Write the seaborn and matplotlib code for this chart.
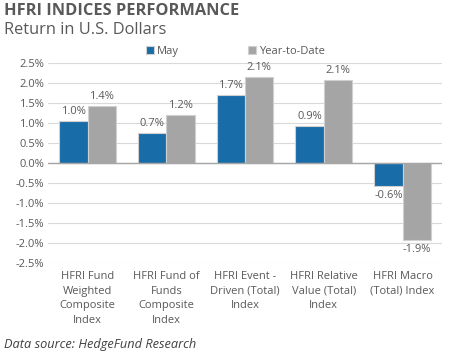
import matplotlib
matplotlib.use("Agg")
import matplotlib.pyplot as plt
import seaborn as sns
import pandas as pd
from matplotlib.ticker import FuncFormatter

categories = ["HFRI Fund\nWeighted\nComposite\nIndex",
              "HFRI Fund of\nFunds\nComposite\nIndex",
              "HFRI Event -\nDriven (Total)\nIndex",
              "HFRI Relative\nValue (Total)\nIndex",
              "HFRI Macro\n(Total) Index"]
may_values = [1.03, 0.73, 1.68, 0.92, -0.57]
may_labels = ["1.0%", "0.7%", "1.7%", "0.9%", "-0.6%"]
ytd_values = [1.41, 1.20, 2.13, 2.07, -1.93]
ytd_labels = ["1.4%", "1.2%", "2.1%", "2.1%", "-1.9%"]
series = ["May", "Year-to-Date"]
yticks = [2.5, 2.0, 1.5, 1.0, 0.5, 0.0, -0.5, -1.0, -1.5, -2.0, -2.5]

sns.set_theme(style="white")
plt.rcParams['font.family'] = ['Open Sans', 'DejaVu Sans']

df = pd.DataFrame({
    "cat": categories * 2,
    "series": [series[0]] * 5 + [series[1]] * 5,
    "value": may_values + ytd_values,
})

txt = "#595959"
fig = plt.figure(figsize=(4.5, 3.56), dpi=100)
ax = fig.add_axes([0.107, 0.262, 0.875, 0.562])
sns.barplot(data=df, x="cat", y="value", hue="series", ax=ax,
            palette={"May": "#0070C0", "Year-to-Date": "#A5A5A5"},
            width=0.72, edgecolor="#D0D0D0", linewidth=0.8, legend=True)

ax.set_ylim(-2.5, 2.5)
ax.set_yticks(yticks)
ax.yaxis.set_major_formatter(FuncFormatter(lambda v, p: f"{v:.1f}%"))
ax.grid(axis="y", color="#D9D9D9", linewidth=0.8)
ax.set_axisbelow(True)
ax.axhline(0, color="#A6A6A6", linewidth=1.0, zorder=3)
for s in ax.spines.values():
    s.set_visible(False)
ax.set_xlabel("")
ax.set_ylabel("")
ax.tick_params(axis="both", length=0, labelsize=8, colors=txt, pad=3)
ax.tick_params(axis="x", pad=6)
for t in ax.get_xticklabels():
    t.set_linespacing(1.45)

labels_all = [may_labels, ytd_labels]
for cont, labs in zip(ax.containers, labels_all):
    ax.bar_label(cont, labels=labs, padding=3, fontsize=8, color=txt)

ax.legend(loc="lower left", bbox_to_anchor=(0.235, 1.0), ncol=2, frameon=False,
          fontsize=8, labelcolor=txt, handlelength=0.7, handleheight=0.7,
          handletextpad=0.3, columnspacing=6.2, borderaxespad=0.1)

fig.text(0.009, 0.968, "HFRI INDICES PERFORMANCE", fontsize=11.8, fontweight="bold",
         color=txt, va="center", ha="left")
fig.text(0.009, 0.916, "Return in U.S. Dollars", fontsize=11.8, color=txt,
         va="center", ha="left")
fig.text(0.009, 0.033, "Data source: HedgeFund Research", fontsize=9.2, style="italic",
         color="#404040", va="center", ha="left")

fig.savefig("out.png", dpi=100)
